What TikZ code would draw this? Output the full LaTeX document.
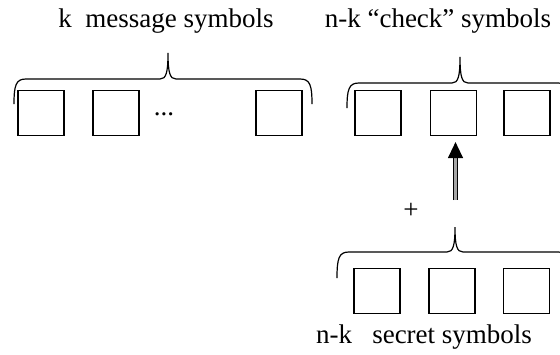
\documentclass[tikz,border=0pt]{standalone}
\usepackage{fontspec}
\setmainfont{Liberation Serif}
\usetikzlibrary{arrows.meta}
\tikzset{
  symbox/.style={draw, line width=1.2pt, minimum width=46pt, minimum height=45pt, inner sep=0pt},
  bracestyle/.style={line width=1.2pt},
  labeltext/.style={anchor=base, inner sep=0pt, font=\fontsize{27}{31}\selectfont},
  arrowshaft/.style={line width=1.3pt, double=gray!70, double distance=2.6pt,
                     -{Triangle[length=16pt, width=15pt]}}
}
% curly brace: x-left, x-right, y-ends, y-line, y-tip, x-tip
\newcommand{\curlybrace}[6]{%
  \draw[bracestyle] (#1,#3) .. controls (#1,#4+6) and (#1+2,#4) .. (#1+12,#4)
    -- (#6-8,#4) .. controls (#6-2,#4) and (#6,#4-6) .. (#6,#5)
    .. controls (#6,#4-6) and (#6+2,#4) .. (#6+8,#4)
    -- (#2-12,#4) .. controls (#2-2,#4) and (#2,#4+6) .. (#2,#3);}

\begin{document}
\begin{tikzpicture}[x=1pt, y=-1pt]
  \useasboundingbox (0,0) rectangle (560,354);
  % labels
  \node[labeltext] (mlabel) at (166,27) {k\ \ message symbols};
  \node[labeltext] (clabel) at (438,27) {n-k “check” symbols};
  \node[labeltext] (slabel) at (424,343) {n-k\ \ \ secret symbols};
  % message symbols
  \node[symbox] (m1) at (41,113) {};
  \node[symbox] (m2) at (116,113) {};
  \node[labeltext] (mdots) at (164,115) {...};
  \node[symbox] (m3) at (279,113) {};
  % check symbols
  \node[symbox] (c1) at (378,113) {};
  \node[symbox] (c2) at (453.5,113) {};
  \node[symbox] (c3) at (527,113) {};
  % secret symbols
  \node[symbox] (s1) at (377,291) {};
  \node[symbox] (s2) at (452,291) {};
  \node[symbox] (s3) at (526.5,291) {};
  % braces
  \curlybrace{14}{312}{104}{79}{53}{168}
  \curlybrace{347}{570}{108}{83}{57}{460}
  \curlybrace{337}{570}{278}{252}{227}{455}
  \coordinate (stip) at (455.5,227);
  \coordinate (ahead) at (stip |- c2.south);
  \node[labeltext] (plus) at (411,218) {+};
  % addition arrow
  \draw[arrowshaft] ([yshift=27pt]stip) -- ([yshift=-6pt]ahead);
\end{tikzpicture}
\end{document}
